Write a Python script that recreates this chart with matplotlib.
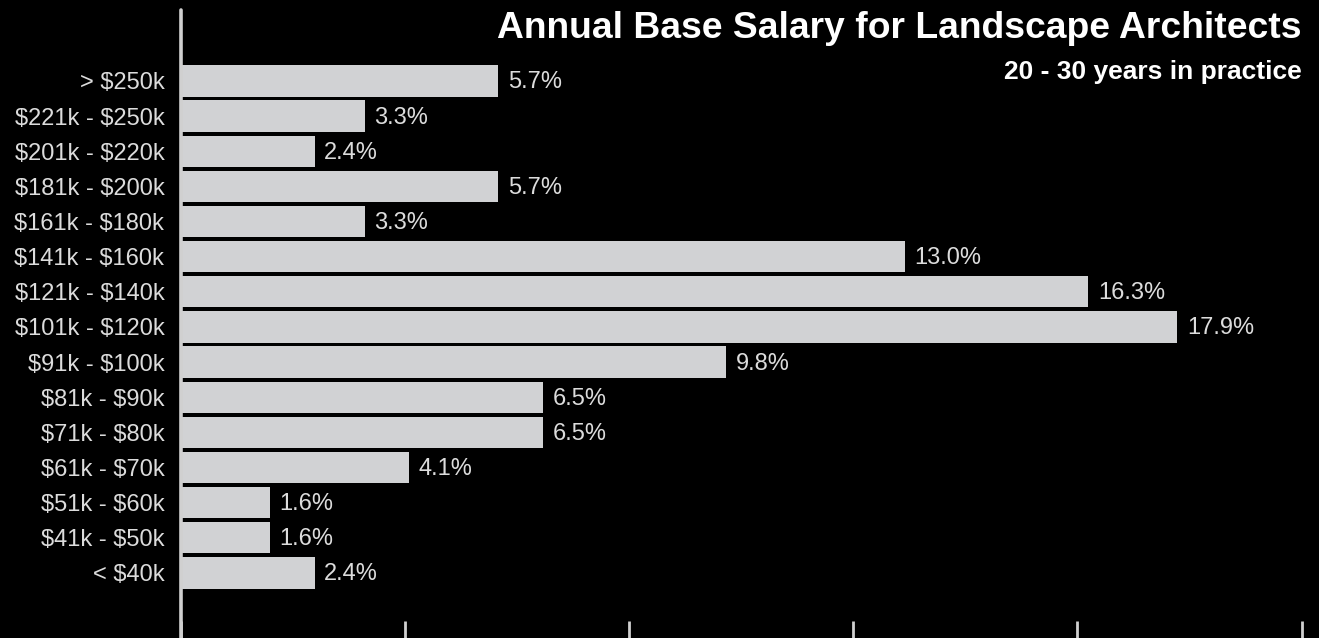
import matplotlib
matplotlib.use("Agg")
import matplotlib.pyplot as plt

plt.rcParams['font.family'] = ['Liberation Sans', 'DejaVu Sans']
plt.rcParams['text.parse_math'] = False

salary_bands = [
    "> $250k", "$221k - $250k", "$201k - $220k", "$181k - $200k",
    "$161k - $180k", "$141k - $160k", "$121k - $140k", "$101k - $120k",
    "$91k - $100k", "$81k - $90k", "$71k - $80k", "$61k - $70k",
    "$51k - $60k", "$41k - $50k", "< $40k",
]
shares = [5.7, 3.3, 2.4, 5.7, 3.3, 13.0, 16.3, 17.9, 9.8, 6.5, 6.5, 4.1, 1.6, 1.6, 2.4]
x_max = 20.13
n_tick_steps = 5

title = "Annual Base Salary for Landscape Architects"
subtitle = "20 - 30 years in practice"

bg = "#000000"
bar_color = "#D1D2D4"
text_color = "#DCDCDC"
axis_color = "#D0D0D0"

W, H = 1319, 638
fig = plt.figure(figsize=(W / 100, H / 100), dpi=100, facecolor=bg)
ax_left, ax_right = 181 / W, 1301.5 / W
ax_top = 1 - 10 / H
ax = fig.add_axes([ax_left, 0.0, ax_right - ax_left, ax_top])
ax.set_facecolor(bg)

pos = list(range(len(salary_bands)))
ax.barh(pos, shares, height=0.89, color=bar_color, zorder=2)

for p, v in zip(pos, shares):
    ax.text(v + 0.17, p + 0.04, f"{v:.1f}%", va="center", ha="left",
            color=text_color, fontsize=17)

ax.set_xlim(0, x_max)
ax.set_ylim(15.85, -2.02)
ax.set_yticks(pos)
ax.set_yticklabels(salary_bands, fontsize=17, color=text_color)
ax.tick_params(axis="y", length=0, pad=12)

ax.set_xticks([x_max * i / n_tick_steps for i in range(n_tick_steps + 1)])
ax.set_xticklabels([])
ax.tick_params(axis="x", direction="in", length=12, width=2, color=axis_color)

for side in ("top", "right", "bottom"):
    ax.spines[side].set_visible(False)
ax.spines["left"].set_color(axis_color)
ax.spines["left"].set_linewidth(2.6)
ax.spines["left"].set_capstyle("round")
ax.spines["left"].set_zorder(3)

fig.text(ax_right, 1 - 28 / H, title, ha="right", va="center",
         color="white", fontsize=26.8, fontweight="bold")
fig.text(ax_right, 1 - 72 / H, subtitle, ha="right", va="center",
         color="white", fontsize=19, fontweight="bold")

fig.savefig("out.png", dpi=100, facecolor=bg)
